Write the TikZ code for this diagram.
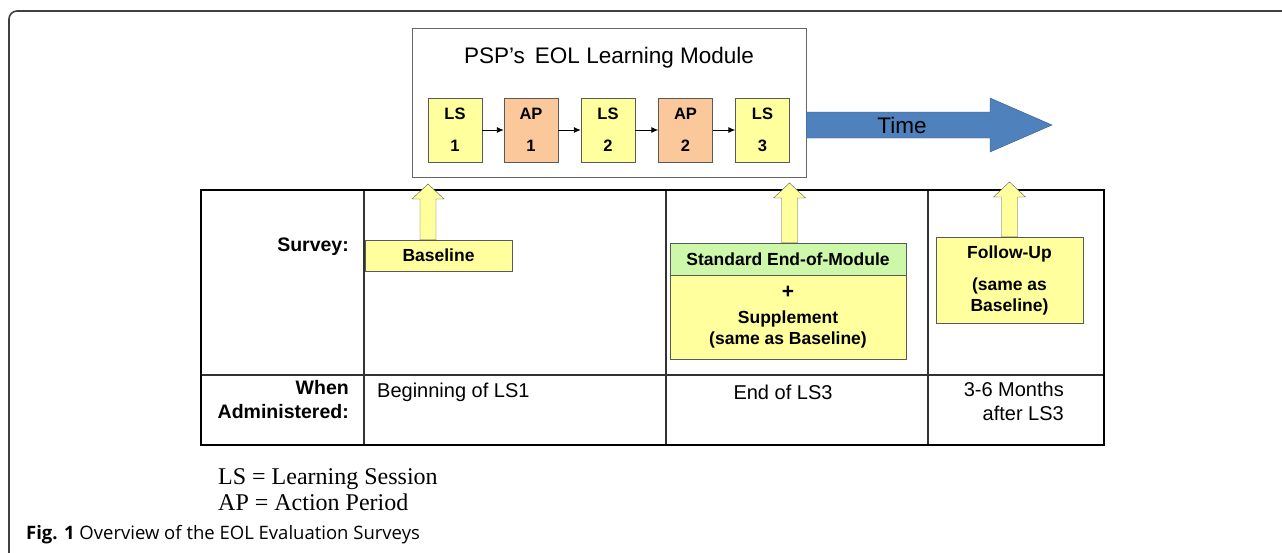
\documentclass[tikz,border=0pt]{standalone}
\usepackage{fontspec}
\setmainfont{Liberation Sans}
\newfontfamily\legendfont{Liberation Serif}
\newfontfamily\captionfont{Open Sans}
\usetikzlibrary{arrows.meta,calc}

\definecolor{boxYellow}{HTML}{FFFF9E}
\definecolor{boxOrange}{HTML}{FAC89A}
\definecolor{boxGreen}{HTML}{CDF8AA}
\definecolor{timeBlue}{HTML}{4F81BD}
\newcommand{\pxsize}[2]{\fontsize{#1}{#2}\selectfont}

\begin{document}
\begin{tikzpicture}
[x=1pt,y=-1pt,
  stepBox/.style={draw=gray!70!black,thin,minimum width=54,minimum height=64,
    inner sep=0pt,align=center,font=\pxsize{16.5}{32}\bfseries},
  lsBox/.style={stepBox,fill=boxYellow},
  apBox/.style={stepBox,fill=boxOrange},
  stepLink/.style={-{Latex[length=7pt,width=6pt]},line width=0.9pt},
  surveyBox/.style={draw=gray!70!black,thin,fill=boxYellow,inner sep=0pt,
    align=center,font=\pxsize{17.5}{21}\bfseries},
  upArrow/.style={draw=gray!70!black,thin,fill=boxYellow},
  tableOuter/.style={line width=2.8pt},
  tableInner/.style={line width=1.2pt,gray!40!black},
  plainText/.style={inner sep=0pt,font=\pxsize{20}{24}},
  rowLabel/.style={inner sep=0pt,align=right,font=\pxsize{19.5}{24}\bfseries}]
\useasboundingbox (0,0) rectangle (1282,552);
%% outer frame
\draw[line width=1.6pt,black!75,rounded corners=8] (1290,11) -- (9,11) -- (9,560);
%% module box with its sessions
\node (module) at (609,102.5) [draw=gray!80!black,thin,minimum width=394,
  minimum height=149,inner sep=0pt] {};
\node (title) at (609,58) [inner sep=0pt,font=\pxsize{22.5}{26}] {PSP's\, EOL Learning Module};
\foreach \nodename/\x/\kind/\num in {
  ls1/455/lsBox/1, ap1/531/apBox/1, ls2/608/lsBox/2,
  ap2/685.5/apBox/2, ls3/762.5/lsBox/3}
{
  \node (\nodename) at (\x,130) [\kind] {\ifnum\pdfstrcmp{\kind}{lsBox}=0 LS\else AP\fi\\\num};
}
\foreach \startnode/\endnode in {ls1/ap1, ap1/ls2, ls2/ap2, ap2/ls3}
{
  \draw[stepLink] (\startnode) -- (\endnode);
}
%% time arrow
\coordinate (timeTip) at (1052,125);
\draw[fill=timeBlue,draw=timeBlue!70!black,thin]
  ($(module.east |- timeTip)+(0,-13)$) -- ($(timeTip)+(-62,-13)$) -- ++(0,-14)
  -- (timeTip) -- ++(-62,27) -- ++(0,-14) -- ($(module.east |- timeTip)+(0,13)$) -- cycle;
\node (time) at (902,125) [inner sep=0pt,font=\pxsize{22.5}{26}] {Time};
%% table
\foreach \x in {364,666,928}
{
  \draw[tableInner] (\x,190) -- (\x,445);
}
\draw[tableInner] (201,375) -- (1104,375);
\draw[tableOuter] (201,190) rectangle (1104,445);
\node (survey) at (349,247) [rowLabel,anchor=east] {Survey:};
\node (when) at (349,400) [rowLabel,anchor=east] {When\\Administered:};
\node (begin) at (377,392) [plainText,anchor=west] {Beginning of LS1};
\node (end) at (783,392) [plainText] {End of LS3};
\node (months) at (1064,401) [plainText,anchor=east,align=right] {3-6 Months\\after LS3};
%% survey boxes
\node (baseline) at (438.5,255.5) [surveyBox,minimum width=147,minimum height=31] {Baseline};
\node (stdmod) at (788,259) [surveyBox,fill=boxGreen,minimum width=236,minimum height=32]
  {Standard End-of-Module};
\node (supp) at (788,317) [surveyBox,minimum width=236,minimum height=84]
  {{\pxsize{21}{21}+}\\[4pt]Supplement\\(same as Baseline)};
\node (followup) at (1009.5,280) [surveyBox,minimum width=147,minimum height=86]
  {Follow-Up\\[11pt](same as\\Baseline)};
%% arrows up to the time line
\coordinate (tipA) at (428,184);
\coordinate (tipB) at (789.5,183);
\coordinate (tipC) at (1009.5,182);
\foreach \tip/\surv in {tipA/baseline, tipB/stdmod, tipC/followup}
{
  \draw[upArrow] (\tip) -- ++(16,15) -- ++(-8,0) |- ($(\surv.north -| \tip)+(-8,0)$)
    |- ($(\tip)+(-8,15)$) -- ++(-8,0) -- cycle;
}
%% legend and caption
\node (legend) at (218,490) [anchor=west,inner sep=0pt,align=left,
  font=\legendfont\pxsize{24}{26}] {LS = Learning Session\\AP = Action Period};
\node (caption) at (26,535) [anchor=west,inner sep=0pt,font=\captionfont\pxsize{18.5}{22}]
  {\textbf{Fig. 1} Overview of the EOL Evaluation Surveys};
\end{tikzpicture}
\end{document}
